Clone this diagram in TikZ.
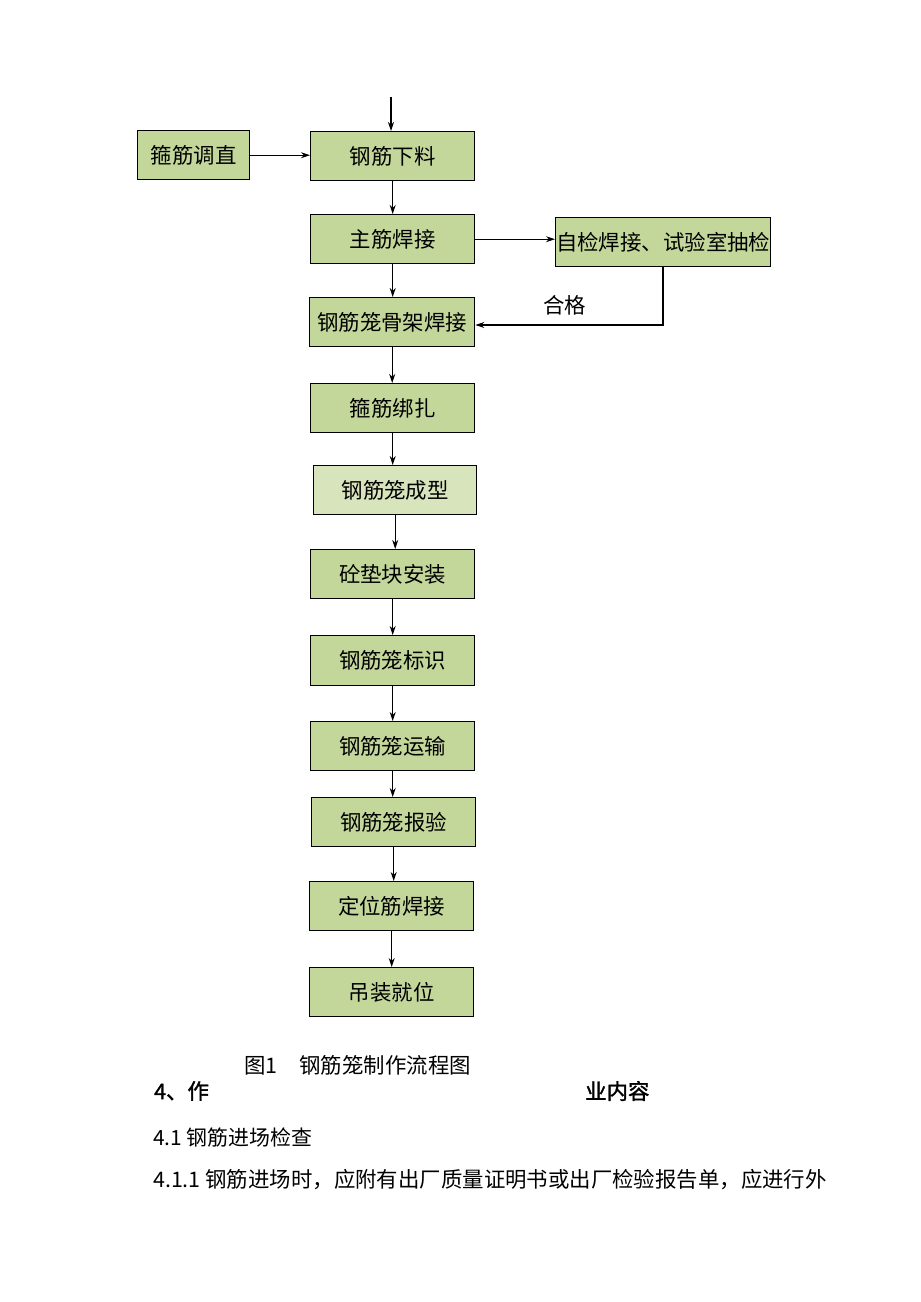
\documentclass[tikz,border=0pt]{standalone}
\usepackage{fontspec}
\setmainfont{Liberation Serif}
\newfontfamily\cjk{Noto Sans CJK SC}
\newfontfamily\cjkb[FakeBold=1.5]{Noto Sans CJK SC}
\usetikzlibrary{arrows.meta,calc}
\definecolor{boxfill}{HTML}{C4D79B}
\definecolor{boxlight}{HTML}{D8E4BC}
\tikzset{
  flowbox/.style={draw=black, line width=1.4bp, fill=boxfill, inner sep=0pt, anchor=north west,
    font=\cjk\fontsize{21.5}{24}\selectfont},
  conn/.style={draw=black, line width=1.1bp, -{Stealth[length=9bp,width=6bp]}},
  plaintext/.style={inner sep=0pt, anchor=west, font=\cjk\fontsize{21.5}{24}\selectfont}
}
\begin{document}
\begin{tikzpicture}[x=1bp,y=-1bp]
\path[use as bounding box, fill=white] (0,0) rectangle (920,1302);
% boxes
\node[flowbox, minimum width=112bp, minimum height=49bp] (gt) at (137,130) {箍筋调直};
\node[flowbox, minimum width=164bp, minimum height=49bp] (xl) at (310,131) {钢筋下料};
\node[flowbox, minimum width=164bp, minimum height=49bp] (zj) at (310,214) {主筋焊接};
\node[flowbox, minimum width=215bp, minimum height=49bp] (zx) at (555,217) {自检焊接、试验室抽检};
\node[flowbox, minimum width=165bp, minimum height=49bp] (gj) at (309,297) {钢筋笼骨架焊接};
\node[flowbox, minimum width=164bp, minimum height=49bp] (bz) at (310,383) {箍筋绑扎};
\node[flowbox, fill=boxlight, minimum width=163bp, minimum height=49bp] (cx) at (313,465) {钢筋笼成型};
\node[flowbox, minimum width=164bp, minimum height=49bp] (dk) at (310,549) {砼垫块安装};
\node[flowbox, minimum width=164bp, minimum height=50bp] (bs) at (310,635) {钢筋笼标识};
\node[flowbox, minimum width=164bp, minimum height=49bp] (ys) at (310,721) {钢筋笼运输};
\node[flowbox, minimum width=164bp, minimum height=49bp] (by) at (311,797) {钢筋笼报验};
\node[flowbox, minimum width=164bp, minimum height=49bp] (dw) at (309,881) {定位筋焊接};
\node[flowbox, minimum width=164bp, minimum height=49bp] (dz) at (309,967) {吊装就位};
% connectors
\coordinate (top) at (391,97);
\draw[conn] (top) -- (top |- xl.north);
\draw[conn] (gt.east) -- (gt.east -| xl.west);
\draw[conn] (xl.south) -- (xl.south |- zj.north);
\draw[conn] (zj.east) -- (zj.east -| zx.west);
\draw[conn] (zj.south) -- (zj.south |- gj.north);
\coordinate (fb) at (663,325);
\draw[conn] (zx.south -| fb) -- (fb) -- (fb -| gj.east);
\node[plaintext] (hg) at (543,305) {合格};
\draw[conn] (gj.south) -- (gj.south |- bz.north);
\draw[conn] (bz.south) -- (bz.south |- cx.north);
\draw[conn] (cx.south) -- (cx.south |- dk.north);
\draw[conn] (dk.south) -- (dk.south |- bs.north);
\draw[conn] (bs.south) -- (bs.south |- ys.north);
\draw[conn] (ys.south) -- (ys.south |- by.north);
\draw[conn] (by.south) -- (by.south |- dw.north);
\draw[conn] (dw.south) -- (dw.south |- dz.north);
% text below
\node[plaintext] (cap) at (244,1065) {图1\hspace{22bp}钢筋笼制作流程图};
\node[plaintext, font=\cjkb\fontsize{21.5}{24}\selectfont] (h4a) at (154,1091) {4、作};
\node[plaintext, font=\cjkb\fontsize{21.5}{24}\selectfont] (h4b) at (585,1091) {业内容};
\node[plaintext, font=\cjk\fontsize{21}{24}\selectfont] (h41) at (153,1138) {4.1 钢筋进场检查};
\node[plaintext, font=\cjk\fontsize{21.5}{24}\selectfont] (p411) at (153,1180) {4.1.1 钢筋进场时，应附有出厂质量证明书或出厂检验报告单，应进行外};
\end{tikzpicture}
\end{document}
